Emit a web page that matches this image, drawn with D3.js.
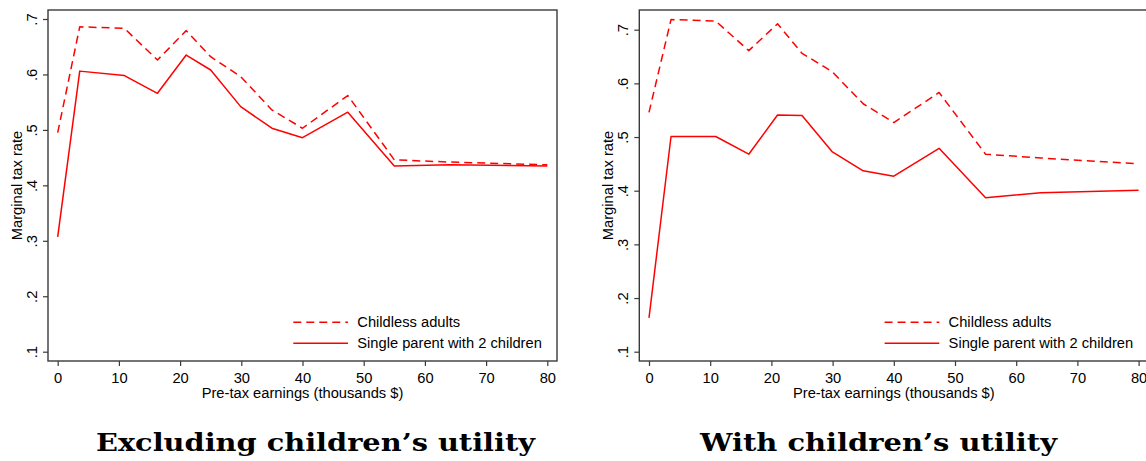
<!DOCTYPE html>
<html>
<head>
<meta charset="utf-8">
<script src="https://cdn.jsdelivr.net/npm/d3@7"></script>
<style>
  body { margin: 0; background: #fff; }
  svg { display: block; }
</style>
</head>
<body>
<div id="chart"></div>
<script>
// earnings grid (thousands $) shared by all series
const earnings = [0, 3.6, 10.9, 16.3, 21, 25, 29.9, 35, 40, 47.4, 55, 64, 80];

// Excluding children's utility
const childlessExcl = [0.495, 0.686, 0.683, 0.626, 0.679, 0.632, 0.596, 0.536, 0.503, 0.562, 0.446, 0.442, 0.437];
const parentExcl    = [0.307, 0.606, 0.598, 0.566, 0.635, 0.608, 0.542, 0.503, 0.486, 0.532, 0.435, 0.437, 0.435];

// With children's utility
const childlessWith = [0.546, 0.719, 0.716, 0.661, 0.711, 0.656, 0.622, 0.562, 0.527, 0.583, 0.468, 0.461, 0.450];
const parentWith    = [0.163, 0.501, 0.501, 0.468, 0.541, 0.540, 0.473, 0.437, 0.427, 0.479, 0.387, 0.396, 0.401];

const xTicks = [0, 10, 20, 30, 40, 50, 60, 70, 80];
const yTicks = [0.1, 0.2, 0.3, 0.4, 0.5, 0.6, 0.7];
const seriesNames = ["Childless adults", "Single parent with 2 children"];
const panelTitles = ["Excluding children\u2019s utility", "With children\u2019s utility"];

const W = 1146, H = 461;
const font = "'Liberation Sans', Arial, sans-serif";
const red = "#ff0000";
const frameColor = "#3a3a3a";

const svg = d3.select("#chart").append("svg")
  .attr("width", W).attr("height", H);

function drawPanel(ox, yTop, series, title, titleX, titleLen) {
  const g = svg.append("g").attr("transform", `translate(${ox},0)`);
  const frame = { left: 48, right: 557, top: 10, bottom: 361 };

  const x = d3.scaleLinear().domain([0, 80]).range([57.7, 547.3]);
  const y = d3.scaleLinear().domain([0.1, 0.7]).range([351.7, yTop]);

  // frame
  g.append("rect")
    .attr("x", frame.left).attr("y", frame.top)
    .attr("width", frame.right - frame.left)
    .attr("height", frame.bottom - frame.top)
    .attr("fill", "none")
    .attr("stroke", frameColor)
    .attr("stroke-width", 1.4);

  // x axis
  const xa = g.append("g")
    .attr("transform", `translate(0,${frame.bottom})`)
    .call(d3.axisBottom(x).tickValues(xTicks).tickSize(5).tickPadding(7).tickFormat(d3.format("d")));
  xa.select(".domain").remove();
  xa.selectAll("line").attr("stroke", frameColor).attr("stroke-width", 1.2);
  xa.selectAll("text").attr("font-family", font).attr("font-size", 14.7).attr("fill", "#000");

  // y axis with rotated labels
  const ya = g.append("g")
    .attr("transform", `translate(${frame.left},0)`)
    .call(d3.axisLeft(y).tickValues(yTicks).tickSize(5)
      .tickFormat(d => d3.format(".1f")(d).replace(/^0/, "")));
  ya.select(".domain").remove();
  ya.selectAll("line").attr("stroke", frameColor).attr("stroke-width", 1.2);
  ya.selectAll("text")
    .attr("font-family", font).attr("font-size", 14.7).attr("fill", "#000")
    .attr("x", null).attr("dy", null)
    .attr("text-anchor", "middle")
    .attr("transform", "translate(-11,0) rotate(-90)");

  // axis titles
  g.append("text")
    .attr("x", (frame.left + frame.right) / 2).attr("y", 398)
    .attr("text-anchor", "middle")
    .attr("font-family", font).attr("font-size", 14.7)
    .text("Pre-tax earnings (thousands $)");
  g.append("text")
    .attr("transform", `translate(21.5,${(frame.top + frame.bottom) / 2}) rotate(-90)`)
    .attr("text-anchor", "middle")
    .attr("font-family", font).attr("font-size", 14.7)
    .text("Marginal tax rate");

  // lines
  const line = d3.line().x(d => x(d[0])).y(d => y(d[1]));
  series.forEach((vals, i) => {
    g.append("path")
      .datum(earnings.map((e, k) => [e, vals[k]]))
      .attr("d", line)
      .attr("fill", "none")
      .attr("stroke", red)
      .attr("stroke-width", 1.5)
      .attr("stroke-linejoin", "round")
      .attr("stroke-dasharray", i === 0 ? "8,5" : null);
  });

  // legend
  const lg = g.append("g");
  seriesNames.forEach((name, i) => {
    const ly = 322.3 + i * 21;
    lg.append("line")
      .attr("x1", 293.3).attr("x2", 348)
      .attr("y1", ly).attr("y2", ly)
      .attr("stroke", red).attr("stroke-width", 1.5)
      .attr("stroke-dasharray", i === 0 ? "8,5" : null);
    lg.append("text")
      .attr("x", 357.3).attr("y", ly + 5)
      .attr("font-family", font).attr("font-size", 14.7)
      .text(name);
  });

  // panel title
  svg.append("text")
    .attr("x", titleX).attr("y", 451)
    .attr("text-anchor", "middle")
    .attr("font-family", "'DejaVu Serif', 'Liberation Serif', serif")
    .attr("font-weight", "bold")
    .attr("font-size", 24)
    .attr("textLength", titleLen)
    .attr("lengthAdjust", "spacingAndGlyphs")
    .text(title);
}

drawPanel(0, 19, [childlessExcl, parentExcl], panelTitles[0], 315.5, 439);
drawPanel(591.3, 29.7, [childlessWith, parentWith], panelTitles[1], 878.5, 357);
</script>
</body>
</html>
